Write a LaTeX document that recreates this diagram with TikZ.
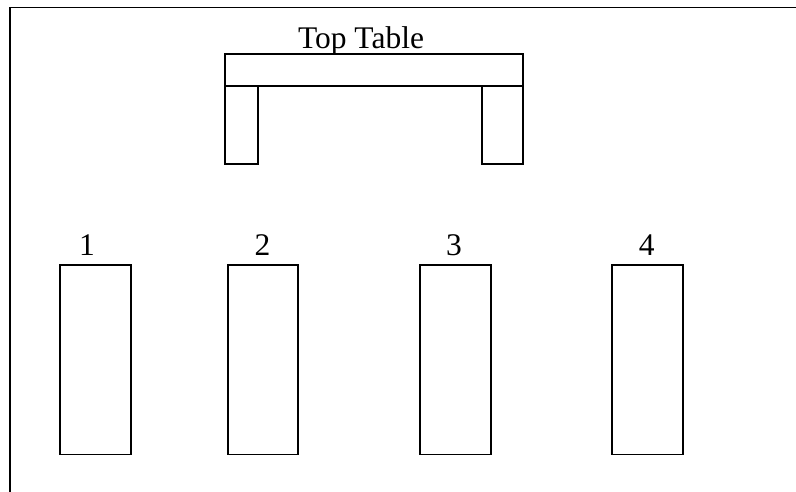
\documentclass[tikz,border=0pt]{standalone}
\usepackage{fontspec}
\setmainfont{Liberation Serif}
\begin{document}
\begin{tikzpicture}[x=1pt,y=1pt,
  tbl/.style={draw=black, line width=1.9pt, inner sep=0pt, fill=white},
  lbl/.style={anchor=base, inner sep=0pt, font=\fontsize{31.5}{36}\selectfont}]
\useasboundingbox (0,0) rectangle (796,492);
% frame
\coordinate (fa) at (796,484.5);
\coordinate (fb) at (10,484.5);
\coordinate (fc) at (10,0);
\draw[line width=1.9pt] (fa) -- (fb) -- (fc);
% top table
\node[tbl, minimum width=32.7pt, minimum height=78pt] (legl) at (241.35,367) {};
\node[tbl, minimum width=41pt, minimum height=78pt] (legr) at (502.2,367) {};
\node[tbl, minimum width=297.7pt, minimum height=32.3pt] (bar) at (373.85,422.15) {};
\node[lbl] (tt) at (361,443) {Top Table};
% tables
\node[tbl, minimum width=71pt, minimum height=189.5pt] (t1) at (95.2,132.25) {};
\node[tbl, minimum width=70pt, minimum height=189.5pt] (t2) at (263,132.25) {};
\node[tbl, minimum width=71pt, minimum height=189.5pt] (t3) at (455.5,132.25) {};
\node[tbl, minimum width=71pt, minimum height=189.5pt] (t4) at (647.8,132.25) {};
\node[lbl] (l1) at (87,236) {1};
\node[lbl] (l2) at (262.5,236) {2};
\node[lbl] (l3) at (454,236) {3};
\node[lbl] (l4) at (646.7,236) {4};
\end{tikzpicture}
\end{document}
